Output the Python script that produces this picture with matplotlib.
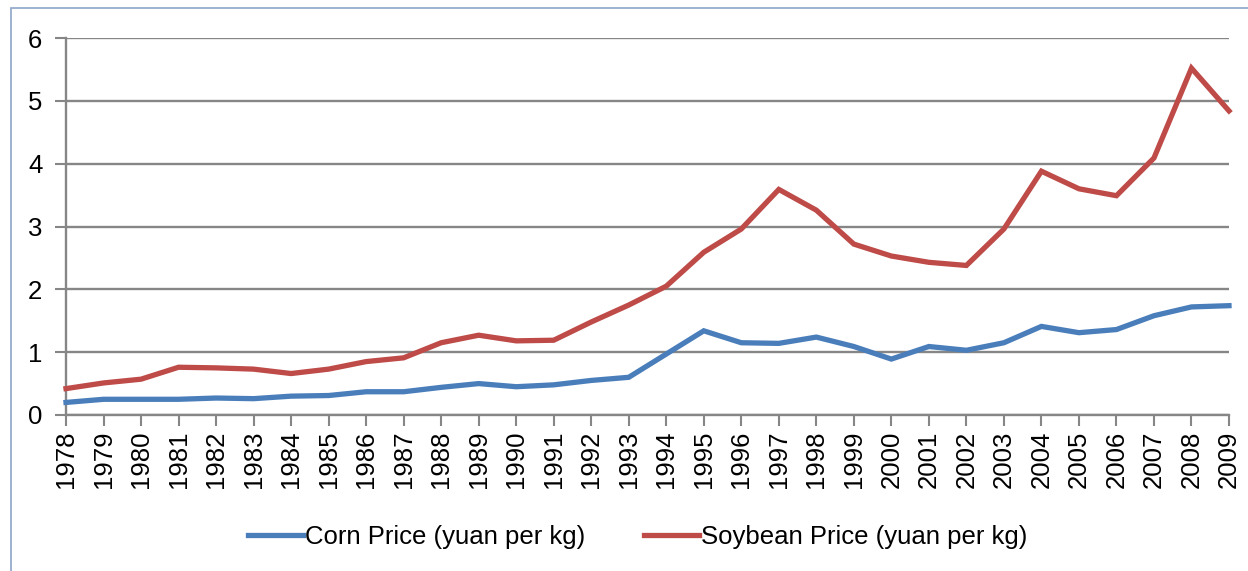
import matplotlib.pyplot as plt
from matplotlib.patches import Rectangle

plt.rcParams['font.family'] = ['Liberation Sans', 'DejaVu Sans']

# yearly prices, yuan per kg
years = list(range(1978, 2010))
corn = [0.20, 0.25, 0.25, 0.25, 0.27, 0.26, 0.30, 0.31, 0.37, 0.37,
        0.44, 0.50, 0.45, 0.48, 0.55, 0.60, 0.97, 1.34, 1.15, 1.14,
        1.24, 1.09, 0.89, 1.09, 1.03, 1.15, 1.41, 1.31, 1.36, 1.58,
        1.72, 1.74]
soybean = [0.42, 0.51, 0.57, 0.76, 0.75, 0.73, 0.66, 0.73, 0.85, 0.91,
           1.15, 1.27, 1.18, 1.19, 1.48, 1.75, 2.05, 2.59, 2.96, 3.59,
           3.26, 2.72, 2.53, 2.43, 2.38, 2.96, 3.88, 3.60, 3.49, 4.09,
           5.52, 4.84]
yticks = [0, 1, 2, 3, 4, 5, 6]

grey = '#868686'
fig = plt.figure(figsize=(12.48, 5.71), dpi=100)
ax = fig.add_axes([66/1248, 1 - 415/571, (1229-66)/1248, (415-38)/571])

#outer chart border
fig.patches.append(Rectangle((11/1248, -0.1), 1.2, 1 - 8/571 + 0.1,
                             transform=fig.transFigure, fill=False,
                             edgecolor='#8EA6C8', linewidth=1.2))

ax.plot(years, corn, color='#4A7EBB', linewidth=3.8, label='Corn Price (yuan per kg)',
        solid_joinstyle='miter', clip_on=False, zorder=3)
ax.plot(years, soybean, color='#BE4B48', linewidth=3.8, label='Soybean Price (yuan per kg)',
        solid_joinstyle='miter', clip_on=False, zorder=3)

ax.set_xlim(1978, 2009)
ax.set_ylim(0, 6)
ax.set_xticks(years)
ax.set_xticklabels([str(y) for y in years], rotation=90)
ax.set_yticks(yticks)
ax.grid(axis='y', color=grey, linewidth=1.7)
ax.set_axisbelow(True)
for s in ['top', 'right']:
    ax.spines[s].set_visible(False)
for s in ['left', 'bottom']:
    ax.spines[s].set_color(grey)
    ax.spines[s].set_linewidth(1.7)
ax.tick_params(direction='out', length=8, width=1.5, color=grey,
               labelsize=18.5, labelcolor='black')
ax.tick_params(axis='y', pad=9)
ax.tick_params(axis='x', pad=3)

fig.legend(loc='center', bbox_to_anchor=(0.511, 0.06), ncol=2, frameon=False,
           fontsize=18.5, handlelength=2.14, handletextpad=0.08, columnspacing=2.3)

fig.savefig('out.png', dpi=100)
